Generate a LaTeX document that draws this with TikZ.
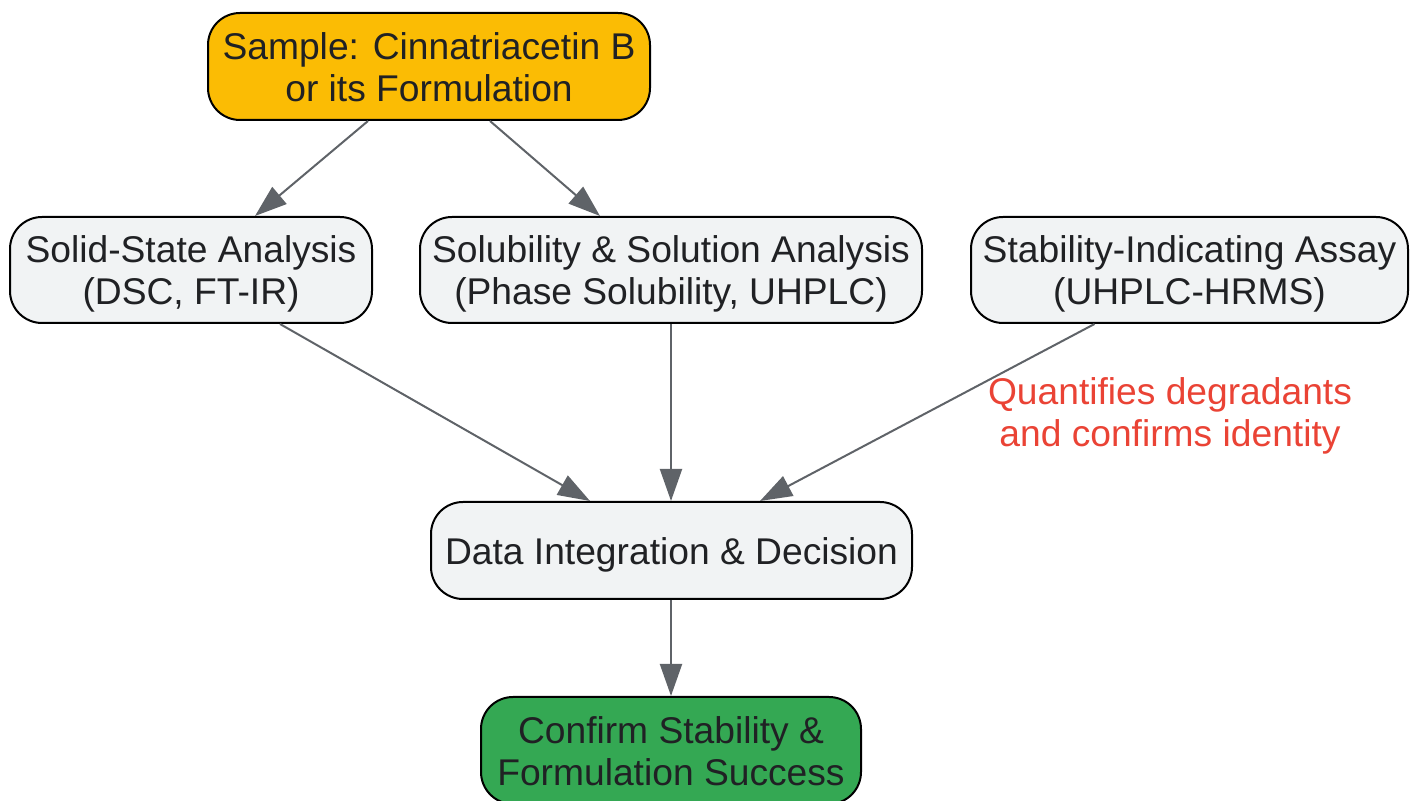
\documentclass[tikz,border=0pt]{standalone}
\usepackage{fontspec}
\setmainfont{Liberation Sans}
\usetikzlibrary{arrows.meta}
\definecolor{txt}{HTML}{202124}
\definecolor{boxgray}{HTML}{F1F3F4}
\definecolor{boxyellow}{HTML}{FBBC04}
\definecolor{boxgreen}{HTML}{34A853}
\definecolor{edgegray}{HTML}{5F6368}
\definecolor{lblred}{HTML}{EA4335}
\newcommand{\topstrut}[1]{\rule{0pt}{#1}}
\tikzset{
  box/.style={draw=black, line width=1pt, rounded corners=16pt, align=center,
    text=txt, font=\fontsize{18.6}{21}\selectfont, inner sep=0pt},
  arr/.style={draw=edgegray, line width=1pt, -{Triangle[length=16pt,width=11pt]}},
  lbl/.style={text=lblred, align=center, font=\fontsize{18.6}{21}\selectfont}
}
\begin{document}
\begin{tikzpicture}[x=0.5pt,y=-0.5pt]
\useasboundingbox (0,0) rectangle (1410,801);
\node[box, fill=boxyellow, minimum width=221pt, minimum height=53.5pt] (sample) at (429,66.5) {\topstrut{14.4pt}Sample: Cinnatriacetin B\\or its Formulation};
\node[box, fill=boxgray, minimum width=181pt, minimum height=53pt] (solid) at (191,270) {\topstrut{17.6pt}Solid-State Analysis\\(DSC, FT-IR)};
\node[box, fill=boxgray, minimum width=251pt, minimum height=53pt] (solub) at (671,270) {\topstrut{17.6pt}Solubility \& Solution Analysis\\(Phase Solubility, UHPLC)};
\node[box, fill=boxgray, minimum width=218.5pt, minimum height=53pt] (stab) at (1189.5,270) {\topstrut{17.6pt}Stability-Indicating Assay\\(UHPLC-HRMS)};
\node[box, fill=boxgray, minimum width=240.5pt, minimum height=48.5pt] (data) at (671.5,550.5) {\topstrut{17.6pt}Data Integration \& Decision};
\node[box, fill=boxgreen, minimum width=190pt, minimum height=53.5pt] (confirm) at (671,750.5) {\topstrut{14.6pt}Confirm Stability \&\\Formulation Success};
\node[lbl] (q) at (1170,416) {Quantifies degradants\\and confirms identity};
\draw[arr] ([xshift=-30.5pt]sample.south) -- ([xshift=32pt]solid.north);
\draw[arr] ([xshift=30.5pt]sample.south) -- ([xshift=-35.5pt]solub.north);
\draw[arr] ([xshift=44.5pt]solid.south) -- ([xshift=-40.75pt]data.north);
\draw[arr] (solub.south) -- (solub.south |- data.north);
\draw[arr] ([xshift=-47.5pt]stab.south) -- ([xshift=44.25pt]data.north);
\draw[arr] (data.south -| confirm.north) -- (confirm.north);
\end{tikzpicture}
\end{document}
